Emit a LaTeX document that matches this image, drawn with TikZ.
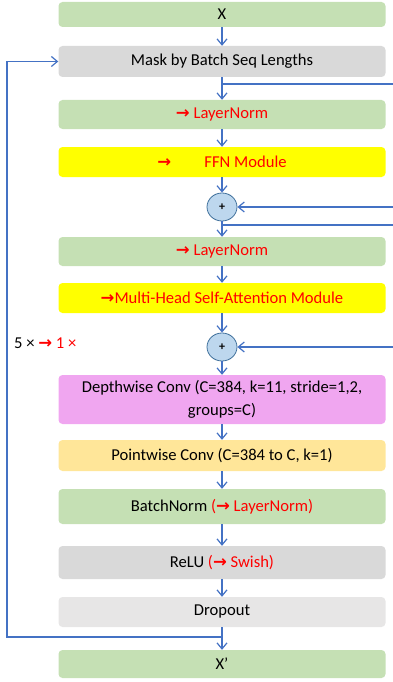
\documentclass[tikz,border=0pt]{standalone}
\usepackage{fontspec}
\setmainfont{Carlito}
\newfontfamily\dv{DejaVu Sans}
\usetikzlibrary{arrows.meta,shapes.geometric}
\definecolor{cgreen}{HTML}{C5E0B4}
\definecolor{cgray}{HTML}{D9D9D9}
\definecolor{clgray}{HTML}{E7E6E6}
\definecolor{cyellow}{HTML}{FFFF00}
\definecolor{cpink}{HTML}{F0A6F0}
\definecolor{corange}{HTML}{FFE699}
\definecolor{cblue}{HTML}{4472C4}
\definecolor{cplus}{HTML}{BDD7EE}
\definecolor{cplusb}{HTML}{41719C}
\definecolor{cred}{HTML}{FF0000}
\newcommand{\rar}{{\dv\bfseries\fontsize{16.5}{18}\selectfont →}}
\begin{document}
\begin{tikzpicture}[x=1pt,y=-1pt,
  blk/.style={rounded corners=4pt, minimum width=327pt, inner sep=2pt, font=\fontsize{16.6}{23}\selectfont, align=center},
  plusnode/.style={ellipse, draw=cplusb, fill=cplus, line width=0.8pt, minimum width=30pt, minimum height=28pt, inner sep=0pt, font=\bfseries\fontsize{12}{12}\selectfont},
  conn/.style={draw=cblue, line width=1.2pt, -{Straight Barb[length=6pt,width=10pt,line width=1.2pt]}},
  line/.style={draw=cblue, line width=1.2pt}
]
\useasboundingbox (0,0) rectangle (393,682);
\node[blk, fill=cgreen, minimum height=25pt] (x) at (222,14.5) {X};
\node[blk, fill=cgray, minimum height=31pt] (mask) at (222,61.5) {Mask by Batch Seq Lengths};
\node[blk, fill=cgreen, minimum height=29pt] (ln1) at (222,114.5) {\textcolor{cred}{\rar\ LayerNorm}};
\node[blk, fill=cyellow, minimum height=30pt] (ffn) at (222,162) {\textcolor{cred}{\rar\qquad FFN Module}};
\node[plusnode] (p1) at (222,207) {+};
\node[blk, fill=cgreen, minimum height=29pt] (ln2) at (222,251.5) {\textcolor{cred}{\rar\ LayerNorm}};
\node[blk, fill=cyellow, minimum height=30pt] (mhsa) at (222,298) {\textcolor{cred}{\rar Multi-Head Self-Attention Module}};
\node[plusnode] (p2) at (222,347) {+};
\node[blk, fill=cpink, minimum height=49pt] (dw) at (222,399.5) {Depthwise Conv (C=384, k=11, stride=1,2,\\groups=C)};
\node[blk, fill=corange, minimum height=31pt] (pw) at (222,455.5) {Pointwise Conv (C=384 to C, k=1)};
\node[blk, fill=cgreen, minimum height=35pt] (bn) at (222,506.5) {BatchNorm \textcolor{cred}{(\rar\ LayerNorm)}};
\node[blk, fill=cgray, minimum height=33pt] (relu) at (222,562.5) {ReLU \textcolor{cred}{(\rar\ Swish)}};
\node[blk, fill=clgray, minimum height=30pt] (drop) at (222,612) {Dropout};
\node[blk, fill=cgreen, minimum height=28pt] (xo) at (222,664) {X’};
\node[anchor=west, inner sep=0pt, font=\fontsize{16.6}{18}\selectfont] (rep) at (14,343) {5 × \textcolor{cred}{\rar\ 1 ×}};

\coordinate (mr) at (393,84);
\coordinate (p1r) at (393,207);
\coordinate (p1l) at (393,225);
\coordinate (p2r) at (393,347);
\coordinate (lb) at (7,637);
\coordinate (lt) at (7,61.5);

\draw[conn] (x) -- (mask);
\draw[conn] (mask) -- (ln1);
\draw[line] (mask.south |- mr) -- (mr);
\draw[conn] (ln1) -- (ffn);
\draw[conn] (ffn) -- (p1);
\draw[conn] (p1r) -- (p1);
\draw[conn] (p1) -- (ln2);
\draw[line] (p1.south |- p1l) -- (p1l);
\draw[conn] (ln2) -- (mhsa);
\draw[conn] (mhsa) -- (p2);
\draw[conn] (p2r) -- (p2);
\draw[conn] (p2) -- (dw);
\draw[conn] (dw) -- (pw);
\draw[conn] (pw) -- (bn);
\draw[conn] (bn) -- (relu);
\draw[conn] (relu) -- (drop);
\draw[conn] (drop) -- (xo);
\draw[line] (drop.south |- lb) -- (lb) -- (lt);
\draw[conn] (lt) -- (mask.west);
\end{tikzpicture}
\end{document}
